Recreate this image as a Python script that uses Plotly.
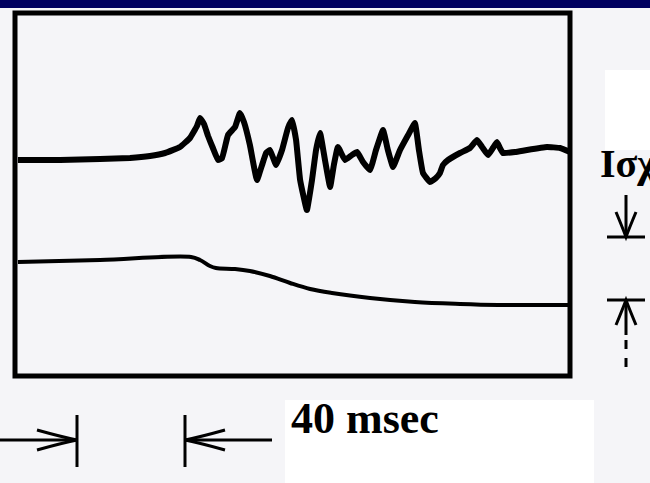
import plotly.graph_objects as go

# ---- data (time in msec, deflection in arbitrary display units) ----
upper_t = [1.1, 16.7, 31.5, 42.6, 50.0, 55.6, 61.1, 64.8, 67.4, 68.5, 70.0, 71.5, 73.3, 75.2,
           76.7, 78.9, 81.5, 83.3, 84.8, 87.0, 89.6, 91.5, 93.0, 94.4, 96.7, 98.9, 101.1,
           102.6, 104.1, 105.6, 108.1, 110.0, 111.5, 113.0, 114.8, 116.7, 118.1, 119.6,
           122.2, 124.8, 126.7, 128.9, 131.5, 133.7, 136.3, 138.1, 140.0, 142.6, 145.6,
           148.1, 149.6, 151.1, 153.7, 155.9, 157.4, 158.5, 160.4, 164.8, 168.5, 171.1,
           173.0, 175.2, 177.0, 178.5, 179.6, 180.7, 185.2, 189.6, 197.0, 201.9, 205.6]
upper_v = [0, 0, 1, 2, 4, 7, 13, 22, 34, 42, 36, 24, 12, 0,
           2, 25, 33, 47, 38, 15, -20, -5, 7, 10, -5, 10, 32,
           40, 20, -20, -50, -20, 10, 27, 0, -27, -5, 13,
           0, 5, 8, -2, -10, 10, 30, 10, -7, 10, 25,
           37, 10, -13, -22, -18, -13, -5, 0, 7, 12, 20,
           13, 5, 12, 18, 12, 7, 8, 10, 13, 12, 8]
upper_offset = 323

lower_t = [1.1, 31.5, 65.2, 68.5, 72.2, 74.4, 81.5, 87.0, 94.4, 101.9, 109.3, 117.4,
           131.5, 148.1, 164.8, 178.9, 194.4, 205.6]
lower_v = [0, 2, 5, 2, -4, -6, -7, -9, -14, -21, -27, -31, -36, -40, -42, -43, -43, -43]
lower_offset = 221

scale_bar_ms = 40
scale_label = "40 msec"
amp_label = "Ισχ"

# ---- geometry of the canvas ----
W, H = 650, 483
PX_PER_MS = 2.7
BOX_LEFT_PX = 15
x_range = [-BOX_LEFT_PX / PX_PER_MS, (W - BOX_LEFT_PX) / PX_PER_MS]
y_range = [0, H]


def px(xp):
    return xp / W


def py(yp):
    return 1 - yp / H


def t_of(xp):
    return (xp - BOX_LEFT_PX) / PX_PER_MS


fig = go.Figure()
fig.add_trace(go.Scatter(x=lower_t, y=[lower_offset + v for v in lower_v], mode="lines",
                         line=dict(color="black", width=4, shape="spline", smoothing=1.0),
                         hoverinfo="skip"))
fig.add_trace(go.Scatter(x=upper_t, y=[upper_offset + v for v in upper_v], mode="lines",
                         line=dict(color="black", width=6, shape="spline", smoothing=0.3),
                         hoverinfo="skip"))

shapes = []
# navy banner
shapes.append(dict(type="rect", xref="paper", yref="paper", x0=0, x1=1, y0=py(8), y1=1,
                   fillcolor="#000060", line=dict(width=0), layer="below"))
# white label patches
shapes.append(dict(type="rect", xref="paper", yref="paper", x0=px(285), x1=px(594), y0=py(483), y1=py(400),
                   fillcolor="white", line=dict(width=0), layer="below"))
shapes.append(dict(type="rect", xref="paper", yref="paper", x0=px(605), x1=1, y0=py(150), y1=py(70),
                   fillcolor="white", line=dict(width=0), layer="below"))
# recording frame
shapes.append(dict(type="rect", xref="x", yref="y", x0=0, x1=t_of(570), y0=H - 376, y1=H - 13,
                   line=dict(color="black", width=5), fillcolor="rgba(0,0,0,0)", layer="above"))

# time scale bar (40 msec between the two ticks)
t1 = t_of(77)
t2 = t1 + scale_bar_ms
ybar = H - 440
black = dict(color="black", width=3)
shapes += [
    dict(type="line", xref="x", yref="y", x0=t1, x1=t1, y0=H - 415, y1=H - 467, line=black),
    dict(type="line", xref="x", yref="y", x0=t2, x1=t2, y0=H - 415, y1=H - 467, line=black),
    dict(type="line", xref="x", yref="y", x0=x_range[0], x1=t1, y0=ybar, y1=ybar, line=black),
    dict(type="line", xref="x", yref="y", x0=t2, x1=t_of(272), y0=ybar, y1=ybar, line=black),
    # arrowheads
    dict(type="path", xref="x", yref="y",
         path=f"M {t1 - 40/PX_PER_MS},{ybar + 10} Q {t1 - 15/PX_PER_MS},{ybar + 3} {t1},{ybar} "
              f"Q {t1 - 15/PX_PER_MS},{ybar - 3} {t1 - 40/PX_PER_MS},{ybar - 10}",
         line=dict(color="black", width=3)),
    dict(type="path", xref="x", yref="y",
         path=f"M {t2 + 40/PX_PER_MS},{ybar + 10} Q {t2 + 15/PX_PER_MS},{ybar + 3} {t2},{ybar} "
              f"Q {t2 + 15/PX_PER_MS},{ybar - 3} {t2 + 40/PX_PER_MS},{ybar - 10}",
         line=dict(color="black", width=3)),
]

# amplitude scale arrows on the right
xa = t_of(626)
xb0, xb1 = t_of(607), t_of(645)
hw = 10 / PX_PER_MS
shapes += [
    dict(type="line", xref="x", yref="y", x0=xa, x1=xa, y0=H - 195, y1=H - 237, line=black),
    dict(type="line", xref="x", yref="y", x0=xb0, x1=xb1, y0=H - 237, y1=H - 237, line=black),
    dict(type="path", xref="x", yref="y",
         path=f"M {xa - hw},{H - 212} Q {xa - hw/3},{H - 228} {xa},{H - 237} Q {xa + hw/3},{H - 228} {xa + hw},{H - 212}",
         line=black),
    dict(type="line", xref="x", yref="y", x0=xb0, x1=xb1, y0=H - 300, y1=H - 300, line=black),
    dict(type="line", xref="x", yref="y", x0=xa, x1=xa, y0=H - 300, y1=H - 335, line=black),
    dict(type="line", xref="x", yref="y", x0=xa, x1=xa, y0=H - 340, y1=H - 374,
         line=dict(color="black", width=3, dash="dash")),
    dict(type="path", xref="x", yref="y",
         path=f"M {xa - hw},{H - 325} Q {xa - hw/3},{H - 309} {xa},{H - 300} Q {xa + hw/3},{H - 309} {xa + hw},{H - 325}",
         line=black),
]

annotations = [
    dict(text=f"<b>{scale_label}</b>", xref="paper", yref="paper", x=px(289), y=py(418),
         xanchor="left", yanchor="middle", showarrow=False,
         font=dict(family="Liberation Serif", size=44, color="black")),
    dict(text=f"<b>{amp_label}</b>", xref="paper", yref="paper", x=px(598), y=py(163),
         xanchor="left", yanchor="middle", showarrow=False,
         font=dict(family="Liberation Serif", size=40, color="black")),
]

fig.update_layout(
    width=W, height=H, margin=dict(l=0, r=0, t=0, b=0),
    paper_bgcolor="#f5f5f8", plot_bgcolor="#f5f5f8",
    showlegend=False, shapes=shapes, annotations=annotations,
    xaxis=dict(range=x_range, visible=False, fixedrange=True),
    yaxis=dict(range=y_range, visible=False, fixedrange=True),
)
fig.write_html("out.html", config={"displayModeBar": False})
